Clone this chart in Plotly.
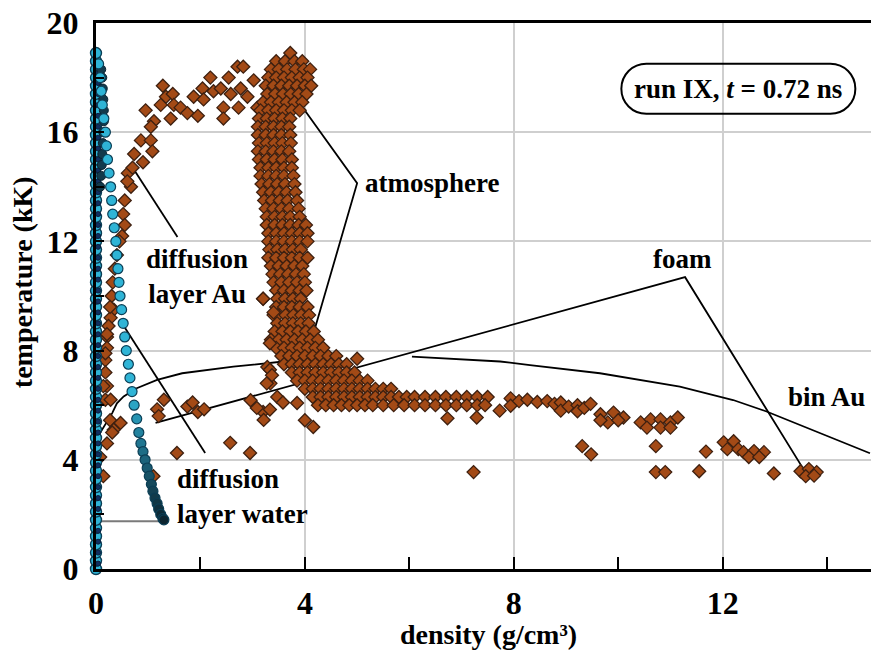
import plotly.graph_objects as go

# ---------------- data ----------------
# gold (Au) particles: diffusion-layer arc (x=density g/cm3, y=T kK)
au_arc = [(0.67,14.0),(0.61,14.5),(0.70,14.7),(0.73,15.2),(0.90,14.9),(0.86,15.7),(1.05,15.7),
          (1.08,15.3),(0.95,16.8),(1.11,16.4),(1.05,16.2),(1.28,17.7),(1.34,17.3),(1.24,17.0),
          (1.47,17.4),(1.49,17.0),(1.43,16.5),(1.62,16.9),(1.75,16.7),(1.95,16.6),(1.87,17.3),
          (2.04,17.6),(2.06,17.2),(2.19,18.0),(2.25,17.5),(2.39,17.6),(2.44,16.9),(2.44,16.5),
          (2.54,18.0),(2.58,17.4),(2.71,18.4),(2.82,18.4),(2.73,16.9),(2.77,17.6),(2.90,17.3),
          (3.02,17.9),(3.09,16.9),(0.60,14.2),(0.55,13.5),(0.52,13.0),(0.55,12.6),(0.50,12.2),
          (0.45,12.0),(0.40,11.5),(0.36,11.0),(0.32,10.5),(0.30,10.0),(0.34,9.5),(0.28,9.2),
          (0.24,8.9),(0.21,8.5),(0.21,8.1),(0.18,7.65),(0.18,7.2),(0.21,6.7),(0.27,9.6),
          (0.21,8.6),(0.18,7.9),(0.14,6.7),(0.18,6.2),(0.28,6.2),(0.27,5.45),(0.34,5.1),
          (0.31,5.0),(0.21,4.6),(0.08,4.1),(0.14,3.4),(0.47,5.35),(1.10,3.4)]
# gold atmosphere column: rows of (T, [densities])
au_col_rows = [
    (18.9,[3.72]),
    (18.6,[3.45,3.62,3.80,3.95]),
    (18.3,[3.35,3.50,3.66,3.82,3.98,4.10]),
    (18.0,[3.30,3.45,3.60,3.75,3.90,4.05]),
    (17.7,[3.25,3.40,3.55,3.70,3.85,4.00,4.12]),
    (17.4,[3.28,3.43,3.58,3.73,3.88,4.03]),
    (17.1,[3.20,3.35,3.50,3.65,3.80,3.95]),
    (16.8,[3.15,3.30,3.45,3.60,3.75,3.90]),
    (16.5,[3.12,3.27,3.42,3.57,3.72]),
    (16.2,[3.10,3.25,3.40,3.55,3.70]),
    (15.9,[3.10,3.25,3.40,3.55,3.72]),
    (15.6,[3.12,3.27,3.42,3.57,3.73]),
    (15.3,[3.10,3.25,3.40,3.55,3.70]),
    (15.0,[3.12,3.27,3.42,3.57,3.75]),
    (14.7,[3.15,3.30,3.45,3.60,3.75]),
    (14.4,[3.15,3.30,3.45,3.60,3.78]),
    (14.1,[3.17,3.32,3.47,3.62,3.80]),
    (13.8,[3.20,3.35,3.50,3.65,3.82]),
    (13.5,[3.22,3.37,3.52,3.67,3.85]),
    (13.2,[3.25,3.40,3.55,3.70,3.88]),
    (12.9,[3.27,3.42,3.57,3.72,3.90]),
    (12.6,[3.27,3.42,3.57,3.72,3.88,4.02]),
    (12.3,[3.30,3.45,3.60,3.75,3.90,4.05]),
    (12.0,[3.30,3.45,3.60,3.75,3.90,4.05]),
    (11.7,[3.32,3.47,3.62,3.77,3.92]),
    (11.4,[3.30,3.45,3.60,3.75,3.90,4.05]),
    (11.1,[3.35,3.50,3.65,3.80,3.95]),
    (10.8,[3.38,3.53,3.68,3.83,3.98]),
    (10.5,[3.40,3.55,3.70,3.85,4.00]),
    (10.2,[3.45,3.60,3.75,3.90,4.03]),
    (9.9,[3.20,3.47,3.62,3.77,3.92]),
    (9.6,[3.45,3.60,3.75,3.90,4.05]),
    (9.3,[3.40,3.48,3.63,3.78,3.93,4.08]),
    (9.0,[3.47,3.62,3.77,3.92,4.07]),
    (8.7,[3.42,3.57,3.72,3.87,4.02,4.17]),
    (8.4,[3.35,3.50,3.65,3.80,3.95,4.10,4.25]),
    (8.1,[3.45,3.60,3.75,3.90,4.05,4.20,4.35]),
    (7.8,[3.55,3.70,3.85,4.00,4.15,4.30,4.45,4.60]),
    (7.5,[3.60,3.75,3.90,4.05,4.20,4.35,4.50,4.65,4.80]),
    (7.2,[3.75,3.90,4.05,4.20,4.35,4.50,4.65,4.80,4.95]),
    (6.9,[3.85,4.00,4.15,4.30,4.45,4.60,4.75,4.90,5.05,5.20]),
    (6.6,[4.00,4.15,4.30,4.45,4.60,4.75,4.90,5.05,5.20,5.35,5.50,5.65]),
    (6.3,[4.15,4.30,4.45,4.60,4.75,4.90,5.05,5.20,5.35,5.50,5.65,5.80,5.95,6.10,6.30,6.50,6.70,6.90,7.10,7.30,7.50]),
    (6.0,[4.25,4.40,4.55,4.70,4.85,5.00,5.15,5.30,5.50,5.70,5.90,6.10,6.30,6.50,6.70,6.90,7.10,7.30,7.45]),
]
# gold foam band and clusters
au_band = [(7.94,6.25),(7.94,5.98),(8.10,6.15),(8.26,6.20),(8.45,6.12),(8.64,6.15),(8.78,6.05),
           (8.90,6.10),(8.90,5.80),(9.05,5.95),(9.22,6.00),(9.22,5.78),(9.35,5.90),(9.47,6.05),
           (7.73,5.80),(9.66,5.67),(9.91,5.73),(10.10,5.55),(9.80,5.37),(10.00,5.45),(9.66,5.45),
           (10.43,5.37),(10.62,5.48),(10.81,5.48),(11.00,5.37),(11.14,5.55),(10.55,5.18),
           (10.81,5.18),(11.00,5.18),(12.02,4.64),(12.21,4.68),(12.09,4.39),(12.30,4.39),
           (12.40,4.28),(12.60,4.32),(12.79,4.28),(12.50,4.10),(12.70,4.10),(13.49,3.58),
           (13.65,3.66),(13.80,3.55),(13.59,3.40),(13.75,3.42)]
# isolated gold particles
au_iso = [(7.29,5.55),(7.23,3.55),(9.31,4.50),(9.48,4.20),(10.72,4.50),(10.72,3.55),(10.90,3.55),
          (11.55,3.58),(11.68,4.30),(12.98,3.50),(5.00,7.70),(6.73,5.52),(3.28,7.40),(3.34,6.80),
          (2.96,6.18),(3.20,5.75),(4.00,5.45),(4.16,5.20),(1.17,5.85),(1.30,6.20),(1.20,5.60),
          (1.75,5.95),(1.85,6.10),(1.95,5.75),(2.07,5.85),(2.57,4.62),(1.55,4.25),(2.95,4.25),
          (3.33,7.30),(3.27,6.80),(3.21,5.46),(3.47,6.30),(3.08,5.90),(3.33,5.84),(3.58,6.10),
          (3.85,6.08),(3.33,8.27),(3.37,7.10),(3.40,9.40),(3.20,9.90)]

# water particles: column at the contact, and diffusion-layer curve
water_col_y = [0.0,0.3,0.6,0.9,1.2,1.5,1.8,2.1,2.4,2.7,3.0,3.3,3.6,3.9,4.2,4.5,4.8,5.1,5.4,5.7,
               6.0,6.3,6.6,6.9,7.2,7.5,7.8,8.1,8.4,8.7,9.0,9.3,9.6,9.9,10.2,10.5,10.8,11.1,11.4,
               11.7,12.0,12.3,12.6,12.9,13.2,13.5,13.8,14.1,14.4,14.7,15.0,15.3,15.6,15.9,16.2,
               16.5,16.8,17.1,17.4,17.7,18.0,18.3,18.6,18.9]
water_col_x = [0.0]*len(water_col_y)
water_dark_col_y = [0.2,0.6,1.0,1.4,2.2,2.6,3.0,3.4,3.8,4.2,4.6,5.0,5.4,5.8,6.2,6.6,7.0,7.4,7.8,
                    8.2,8.6,9.0,9.4,9.8,10.2,10.6,11.0,11.4,11.8,12.2,12.6,13.0,13.4,13.8,14.2,
                    14.6,15.0,15.4,15.8,16.2,16.6,17.0,17.4,17.8,18.2]
water_dark_col_x = [0.04]*len(water_dark_col_y)
water_dark = [(0.10,18.3),(0.12,18.0),(0.13,17.6),(0.14,17.2),(0.15,16.8),(0.15,16.4),(0.14,16.0),
              (0.13,15.6),(0.12,15.2),(0.11,14.8),(0.10,14.4),(0.08,14.0)]
water_curve = [(0.05,18.5),(0.08,18.0),(0.10,17.5),(0.12,17.0),(0.15,16.5),(0.18,16.0),(0.20,15.5),
               (0.22,15.0),(0.25,14.5),(0.28,14.0),(0.30,13.5),(0.32,13.0),(0.35,12.5),(0.38,12.0),
               (0.40,11.5),(0.42,11.0),(0.44,10.5),(0.46,10.0),(0.49,9.5),(0.52,9.0),(0.55,8.5),
               (0.58,8.0),(0.62,7.5),(0.65,7.0),(0.69,6.5),(0.73,6.0),(0.78,5.5),(0.82,5.0),
               (0.86,4.6),(0.90,4.3),(0.94,4.0),(0.98,3.7),(1.02,3.4),(1.06,3.1),(1.09,2.85),
               (1.13,2.6),(1.17,2.4),(1.20,2.2),(1.24,2.0),(1.28,1.85),(1.30,1.8)]
water_base = [(0.0,1.75),(1.28,1.75)]

# binodal of Au (two drawn pieces)
binAu_1 = [(0.0,4.0),(0.02,4.43),(0.08,4.99),(0.21,5.40),(0.31,5.71),(0.40,6.07),(0.53,6.32),
           (0.78,6.62),(1.17,6.93),(1.65,7.17),(2.63,7.41),(3.59,7.60),(4.68,7.76)]
binAu_2 = [(6.05,7.78),(7.74,7.60),(8.31,7.47),(9.65,7.17),(11.18,6.68),(12.20,6.19),
           (12.84,5.77),(13.80,5.04),(14.82,4.24)]

# leader lines
lead_atm = [(3.68,17.65),(5.00,14.13),(3.99,7.48)]
lead_foam = [(1.14,5.35),(11.28,10.69),(13.52,3.74)]
lead_au = [(0.71,14.68),(1.56,12.16)]
lead_water = [(0.52,8.94),(2.09,4.25)]

x_ticks = [0, 4, 8, 12]
y_ticks = [0, 4, 8, 12, 16, 20]

# ---------------- figure ----------------
def xs(p): return [a for a, b in p]
def ys(p): return [b for a, b in p]

au_col = [(x, y) for y, row in au_col_rows for x in row]
au_all = au_arc + au_col + au_band + au_iso

SERIF = "Liberation Serif"
fig = go.Figure()

line_style = dict(color="black", width=1.8)
for seg in (binAu_1, binAu_2, lead_atm, lead_foam, lead_au, lead_water):
    fig.add_trace(go.Scatter(x=xs(seg), y=ys(seg), mode="lines", line=line_style,
                             hoverinfo="skip", cliponaxis=False))

fig.add_trace(go.Scatter(x=xs(water_base), y=ys(water_base), mode="lines",
                         line=dict(color="#7a7a7a", width=2), cliponaxis=False))

fig.add_trace(go.Scatter(x=xs(au_all), y=ys(au_all), mode="markers", cliponaxis=False,
                         marker=dict(symbol="diamond", size=10, color="#a34a16",
                                     line=dict(color="#3e2010", width=1.3))))

fig.add_trace(go.Scatter(x=water_col_x, y=water_col_y, mode="markers", cliponaxis=False,
                         marker=dict(symbol="circle", size=11, color="#2fb4d6",
                                     line=dict(color="#0b3e55", width=1.4))))
fig.add_trace(go.Scatter(x=water_dark_col_x, y=water_dark_col_y, mode="markers", cliponaxis=False,
                         marker=dict(symbol="circle", size=5, color="#0f2f60",
                                     line=dict(color="#0a1f40", width=1))))
fig.add_trace(go.Scatter(x=xs(water_dark), y=ys(water_dark), mode="markers", cliponaxis=False,
                         marker=dict(symbol="circle", size=9, color="#133a4c",
                                     line=dict(color="#0a2230", width=1))))
fig.add_trace(go.Scatter(x=xs(water_curve), y=ys(water_curve), mode="markers", cliponaxis=False,
                         marker=dict(symbol="circle", size=10, color=ys(water_curve),
                                     colorscale=[[0, "#0c2530"], [0.45, "#1a6078"], [1, "#2fb4d6"]],
                                     cmin=1.8, cmax=6.5, showscale=False,
                                     line=dict(color="#0b3e55", width=1.2))))

tickfont = dict(family=SERIF, size=32, color="black", weight="bold")
fig.update_layout(
    width=871, height=653, showlegend=False,
    margin=dict(l=96, r=0, t=23, b=84),
    plot_bgcolor="white", paper_bgcolor="white",
    xaxis=dict(range=[0, 14.84], tickvals=x_ticks, ticktext=[str(v) for v in x_ticks],
               showgrid=True, gridcolor="#cfcfcf", gridwidth=2, zeroline=False,
               showline=True, linecolor="black", linewidth=3, mirror=True,
               ticks="inside", ticklen=12, tickwidth=2, tickcolor="black",
               minor=dict(dtick=2, tick0=0, ticks="inside", ticklen=12, tickwidth=2,
                          tickcolor="black", showgrid=False),
               tickfont=tickfont, ticklabelstandoff=4),
    yaxis=dict(range=[0, 20], tickvals=y_ticks, ticktext=[str(v) for v in y_ticks],
               showgrid=True, gridcolor="#cfcfcf", gridwidth=2, zeroline=False,
               showline=True, linecolor="black", linewidth=3,
               ticks="inside", ticklen=8, tickwidth=2, tickcolor="black",
               minor=dict(dtick=2, tick0=0, ticks="inside", ticklen=8, tickwidth=2,
                          tickcolor="black", showgrid=False),
               tickfont=tickfont, ticklabelstandoff=8),
)

afont = dict(family=SERIF, size=27, color="black", weight="bold")
tfont = dict(family=SERIF, size=28, color="black", weight="bold")
fig.add_annotation(x=5.12, y=14.13, text="atmosphere", showarrow=False, xanchor="left",
                   font=afont)
fig.add_annotation(x=1.94, y=10.7, text="diffusion<br>layer Au", showarrow=False, font=afont)
fig.add_annotation(x=1.52, y=2.65, text="diffusion<br>layer water", showarrow=False,
                   xanchor="left", align="left", font=afont)
fig.add_annotation(x=11.24, y=11.35, text="foam", showarrow=False, font=afont)
fig.add_annotation(x=13.98, y=6.3, text="bin Au", showarrow=False, font=afont)
fig.add_annotation(x=12.3, y=17.59, text="run IX, <i>t</i> = 0.72 ns", showarrow=False,
                   font=afont)
fig.add_shape(type="path", xref="x", yref="y", xsizemode="pixel", ysizemode="pixel",
              xanchor=12.3, yanchor=17.59,
              path="M -92,25 L 92,25 C 106,25 117,14 117,0 C 117,-14 106,-25 92,-25 "
                   "L -92,-25 C -106,-25 -117,-14 -117,0 C -117,14 -106,25 -92,25 Z",
              line=dict(color="black", width=2), fillcolor="rgba(255,255,255,0)")

fig.add_annotation(xref="paper", yref="paper", x=0.506, y=-0.12, text="density (g/cm³)",
                   showarrow=False, font=tfont, xanchor="center", yanchor="middle")
fig.add_annotation(xref="paper", yref="paper", x=-0.095, y=0.526, text="temperature (kK)",
                   showarrow=False, font=tfont, textangle=-90, xanchor="center",
                   yanchor="middle")

fig.write_html("out.html")
